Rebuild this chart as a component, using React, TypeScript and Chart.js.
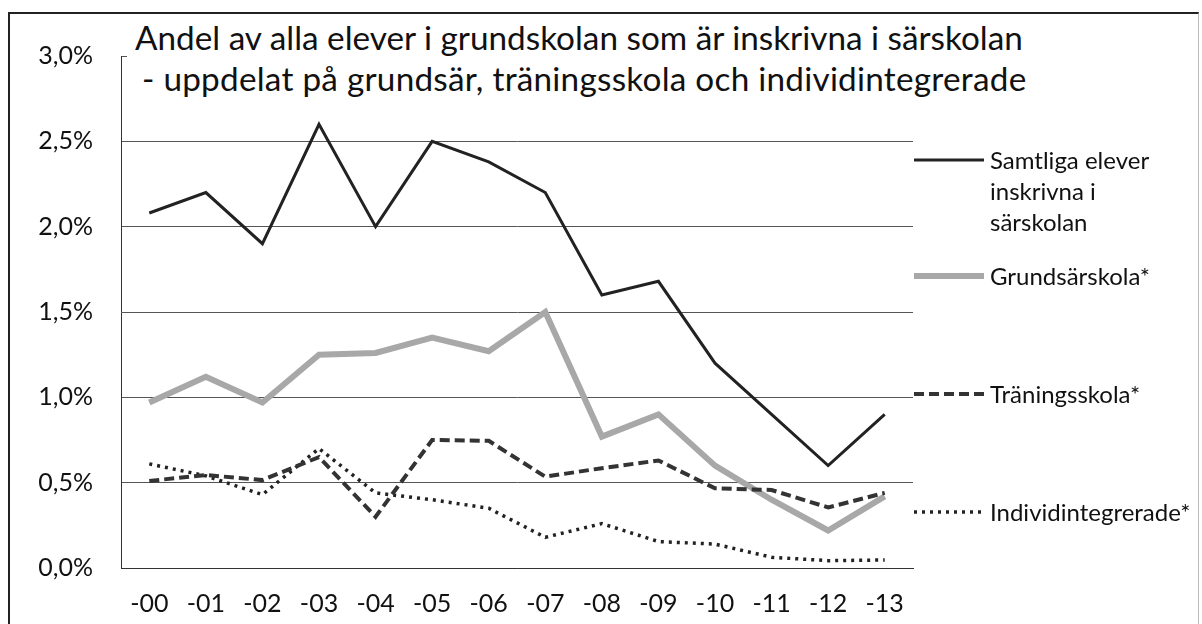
import React, { useEffect, useRef } from "react";
import { Chart, registerables } from "chart.js";
Chart.register(...registerables);

const categories = ["-00", "-01", "-02", "-03", "-04", "-05", "-06", "-07", "-08", "-09", "-10", "-11", "-12", "-13"];
const samtliga = [2.08, 2.2, 1.9, 2.6, 2.0, 2.5, 2.38, 2.2, 1.6, 1.68, 1.2, 0.9, 0.6, 0.9];
const grundsar = [0.97, 1.12, 0.97, 1.25, 1.26, 1.35, 1.27, 1.5, 0.77, 0.9, 0.6, 0.4, 0.22, 0.42];
const traning = [0.51, 0.545, 0.515, 0.65, 0.3, 0.75, 0.745, 0.535, 0.585, 0.63, 0.467, 0.457, 0.355, 0.44];
const individ = [0.61, 0.54, 0.43, 0.7, 0.44, 0.4, 0.35, 0.18, 0.26, 0.155, 0.14, 0.063, 0.043, 0.047];
const yMin = 0;
const yMax = 3;
const yStep = 0.5;

const titleLine1 = "Andel av alla elever i grundskolan som är inskrivna i särskolan";
const titleLine2 = "- uppdelat på grundsär, träningsskola och individintegrerade";

const FONT = "Lato, 'Open Sans', sans-serif";

type LegendItem = { lines: string[]; color: string; width: number; dash: number[]; top: number };
const legendItems: LegendItem[] = [
  { lines: ["Samtliga elever", "inskrivna i", "särskolan"], color: "#222", width: 3, dash: [], top: 160 },
  { lines: ["Grundsärskola*"], color: "#a8a8a8", width: 6, dash: [], top: 276 },
  { lines: ["Träningsskola*"], color: "#333", width: 4, dash: [10, 5], top: 394 },
  { lines: ["Individintegrerade*"], color: "#222", width: 3.5, dash: [3, 5], top: 512 },
];

export default function App() {
  const ref = useRef<HTMLCanvasElement | null>(null);
  useEffect(() => {
    if (!ref.current) return;
    const legendPlugin = {
      id: "legendSamples",
      afterDraw(chart: any) {
        const ctx = chart.ctx;
        const x0 = chart.chartArea.right + 1;
        ctx.save();
        legendItems.forEach((it) => {
          ctx.beginPath();
          ctx.strokeStyle = it.color;
          ctx.lineWidth = it.width;
          ctx.setLineDash(it.dash);
          ctx.lineCap = "butt";
          ctx.moveTo(x0, it.top);
          ctx.lineTo(x0 + 70, it.top);
          ctx.stroke();
        });
        ctx.restore();
      },
    };
    const chart = new Chart(ref.current, {
      type: "line",
      data: {
        labels: categories,
        datasets: [
          { label: "Samtliga elever inskrivna i särskolan", data: samtliga, borderColor: "#222", borderWidth: 3 },
          { label: "Träningsskola*", data: traning, borderColor: "#333", borderWidth: 4, borderDash: [10, 5] },
          { label: "Grundsärskola*", data: grundsar, borderColor: "#a8a8a8", borderWidth: 6 },
          { label: "Individintegrerade*", data: individ, borderColor: "#222", borderWidth: 3.5, borderDash: [3, 5] },
        ],
      },
      options: {
        animation: false,
        responsive: false,
        maintainAspectRatio: false,
        layout: { padding: { left: 0, right: 1202 - 913, top: 56, bottom: 0 } },
        elements: { point: { radius: 0 }, line: { tension: 0, fill: false } },
        plugins: { legend: { display: false }, title: { display: false }, tooltip: { enabled: false } },
        scales: {
          x: {
            offset: true,
            grid: { display: false, drawTicks: false },
            border: { display: true, color: "#333", width: 1 },
            ticks: { color: "#111", font: { family: FONT, size: 25 }, padding: 21, autoSkip: false, maxRotation: 0 },
            afterFit: (s: any) => { s.height = 56; },
          },
          y: {
            min: yMin,
            max: yMax,
            ticks: {
              stepSize: yStep,
              padding: 28,
              color: "#111",
              font: { family: FONT, size: 25 },
              callback: (v: any) => Number(v).toFixed(1).replace(".", ",") + "%",
            },
            grid: { color: "#555", lineWidth: 1, drawTicks: false },
            border: { display: true, color: "#333", width: 1 },
            afterFit: (s: any) => { s.width = 121; },
          },
        },
      },
      plugins: [legendPlugin],
    });
    return () => chart.destroy();
  }, []);

  return (
    <div style={{ position: "fixed", left: 0, top: 0, width: 1202, height: 624, overflow: "hidden", background: "#fff" }}>
      <canvas ref={ref} width={1202} height={624} style={{ position: "absolute", left: 0, top: 0, width: 1202, height: 624 }} />
      <div style={{ position: "absolute", left: 8, top: 12, width: 1188, height: 700, borderLeft: "2px solid #222", borderTop: "2px solid #222", borderRight: "1px solid #bbb", pointerEvents: "none" }} />
      <div style={{ position: "absolute", left: 127, top: 17, background: "#fff", paddingLeft: 8, paddingRight: 6, fontFamily: FONT, fontSize: 33.3, lineHeight: "41px", color: "#111", whiteSpace: "nowrap" }}>
        <div>{titleLine1}</div>
        <div style={{ paddingLeft: 7, letterSpacing: "0.25px" }}>{titleLine2}</div>
      </div>
      {legendItems.map((it, i) => (
        <div key={i} style={{ position: "absolute", left: 990, top: it.top - 16, fontFamily: FONT, fontSize: 24, lineHeight: "31px", color: "#111", whiteSpace: "nowrap" }}>
          {it.lines.map((l, j) => (<div key={j}>{l}</div>))}
        </div>
      ))}
    </div>
  );
}
